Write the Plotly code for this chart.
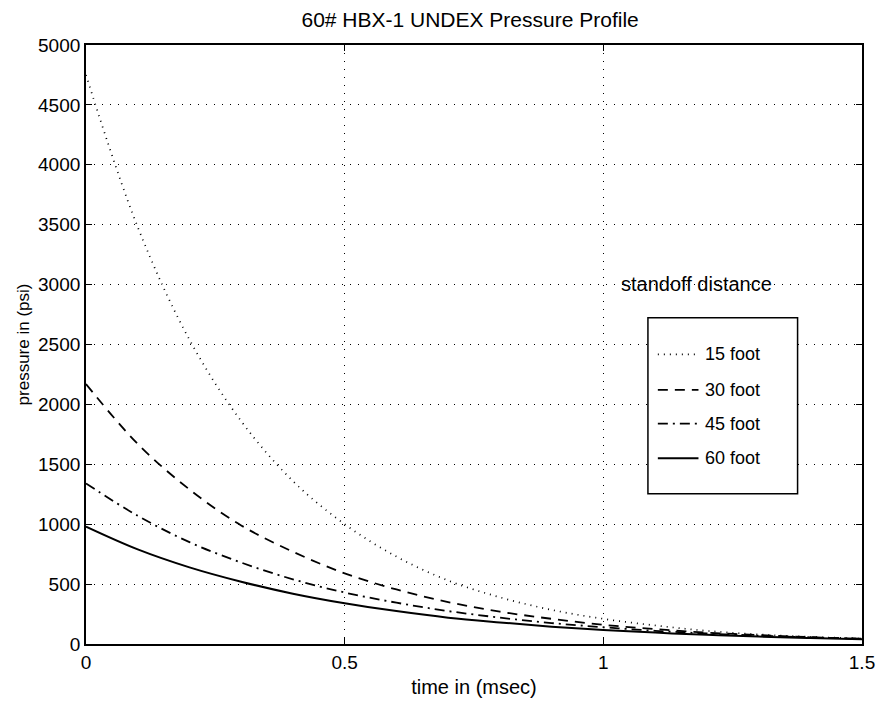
import plotly.graph_objects as go

# Time samples (msec) and peak-pressure decay for each standoff distance (psi)
time_ms = [0.0, 0.1, 0.2, 0.3, 0.4, 0.5, 0.6, 0.7, 0.8, 0.9, 1.0, 1.1, 1.2, 1.3, 1.4, 1.5]
p_15ft = [4750, 3480, 2540, 1860, 1360, 1000, 730, 530, 390, 285, 210, 155, 110, 80, 60, 45]
p_30ft = [2170, 1670, 1290, 990, 770, 590, 455, 350, 270, 210, 160, 125, 95, 75, 57, 44]
p_45ft = [1340, 1070, 850, 680, 540, 430, 345, 275, 220, 175, 140, 110, 88, 70, 56, 45]
p_60ft = [980, 790, 640, 520, 420, 340, 275, 220, 180, 145, 117, 95, 77, 62, 50, 40]

series_names = ["15 foot", "30 foot", "45 foot", "60 foot"]
x_ticks = [0, 0.5, 1, 1.5]
x_tick_text = ["0", "0.5", "1", "1.5"]
y_ticks = [0, 500, 1000, 1500, 2000, 2500, 3000, 3500, 4000, 4500, 5000]

FONT = "Liberation Sans, Arial, Helvetica, sans-serif"
W, H = 887, 707
ML, MR, MT, MB = 86, 18, 45, 56

dash_styles = ["1px,5px", "10px,7px", "10px,5px,2px,5px", "solid"]
widths = [1.7, 1.8, 1.8, 2.0]

fig = go.Figure()
for name, ys, dash, w in zip(series_names, [p_15ft, p_30ft, p_45ft, p_60ft], dash_styles, widths):
    fig.add_trace(go.Scatter(
        x=time_ms, y=ys, mode="lines", name=name,
        line=dict(color="black", width=w, dash=dash, shape="spline", smoothing=1.0),
        showlegend=False,
    ))

axis_common = dict(
    showline=True, linecolor="black", linewidth=1.8, mirror="ticks",
    ticks="inside", ticklen=6, tickcolor="black", tickwidth=1.4,
    showgrid=True, gridcolor="black", gridwidth=1, griddash="1px,7px",
    zeroline=False, tickfont=dict(family=FONT, size=19, color="black"),
)

fig.update_xaxes(range=[0, 1.5], tickvals=x_ticks, ticktext=x_tick_text,
                 title=dict(text="time in (msec)", font=dict(family=FONT, size=20, color="black"), standoff=8),
                 **axis_common)
fig.update_yaxes(range=[0, 5000], tickvals=y_ticks,
                 title=dict(text="pressure in (psi)", font=dict(family=FONT, size=17, color="black"), standoff=4),
                 **axis_common)


def px_to_paper(px, py):
    pw = W - ML - MR
    ph = H - MT - MB
    return (px - ML) / pw, 1 - (py - MT) / ph


# Legend drawn as a boxed key with a heading above it
shapes = []
annotations = []
x0, y0 = px_to_paper(653, 321)
x1, y1 = px_to_paper(804, 499)
shapes.append(dict(type="rect", xref="paper", yref="paper", x0=x0, y0=y1, x1=x1, y1=y0,
                   line=dict(color="black", width=1.5), fillcolor="white", layer="above"))
entry_rows = [358, 394, 428, 463]
for name, dash, w, row in zip(series_names, dash_styles, widths, entry_rows):
    lx0, ly = px_to_paper(663, row)
    lx1, _ = px_to_paper(704, row)
    shapes.append(dict(type="line", xref="paper", yref="paper", x0=lx0, x1=lx1, y0=ly, y1=ly,
                       line=dict(color="black", width=w, dash=dash), layer="above"))
    tx, ty = px_to_paper(709, row)
    annotations.append(dict(text=name, xref="paper", yref="paper", x=tx, y=ty, xanchor="left",
                            yanchor="middle", showarrow=False,
                            font=dict(family=FONT, size=18, color="black")))
hx, hy = px_to_paper(702, 287)
annotations.append(dict(text="standoff distance", xref="paper", yref="paper", x=hx, y=hy,
                        xanchor="center", yanchor="middle", showarrow=False,
                        font=dict(family=FONT, size=20, color="black")))

fig.update_layout(
    width=W, height=H,
    margin=dict(l=ML, r=MR, t=MT, b=MB),
    paper_bgcolor="white", plot_bgcolor="white",
    title=dict(text="60# HBX-1 UNDEX Pressure Profile", x=0.53, xanchor="center", y=0.972, yanchor="middle",
               font=dict(family=FONT, size=21, color="black")),
    shapes=shapes, annotations=annotations,
    showlegend=False,
)

fig.write_html("out.html")
